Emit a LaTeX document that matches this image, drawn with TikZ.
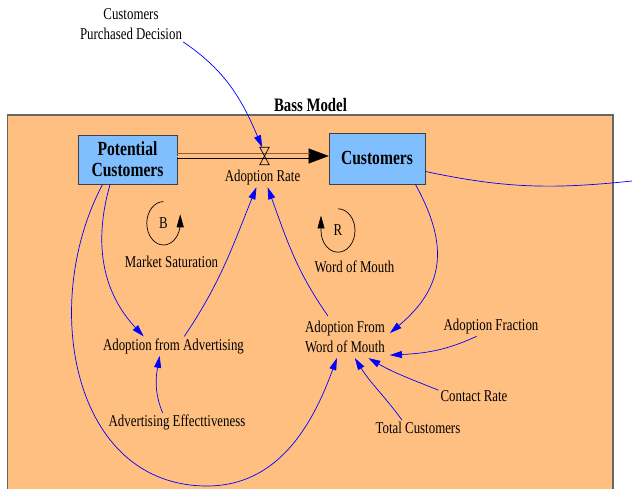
\documentclass[tikz,border=0pt]{standalone}
\usepackage{fontspec}
\setmainfont{Liberation Serif}[FakeStretch=0.78]
\usetikzlibrary{arrows.meta}
\usetikzlibrary{calc}

\definecolor{sheet}{RGB}{255,191,128}
\definecolor{stockfill}{RGB}{128,191,255}
\definecolor{pipebrown}{RGB}{128,96,64}

\begin{document}
\begin{tikzpicture}[x=1pt,y=1pt,>={Triangle[length=12pt,width=7pt]},
      var node/.style={font=\fontsize{16.5}{20.5}\selectfont,inner sep=2pt,text height=11.4pt,text depth=3.6pt},
      two line/.style={font=\fontsize{16.5}{20.5}\selectfont,inner sep=2pt,align=center},
      stock node/.style={draw=black!75,fill=stockfill,line width=0.8pt,font=\fontsize{20}{21}\selectfont\bfseries,align=center,inner sep=0pt},
      loop sign/.style={font=\fontsize{16.5}{20.5}\selectfont,inner sep=0pt},
      loop arrow/.style={black,line width=0.7pt,-{Triangle[length=13pt,width=7pt]}},
      link/.style={blue,line width=0.7pt}]
    \useasboundingbox (0,0) rectangle (632,-489);
    \clip (0,0) rectangle (632,-489);
    \draw[draw=black!60,line width=1.5pt,fill=sheet] (7.5,-115) rectangle (613,-500);
    \node[font=\fontsize{19}{21}\selectfont\bfseries] (title) at (310.5,-105) {Bass Model};

    \node[stock node,minimum width=99pt,minimum height=49pt] (PC) at (127.5,-159.5) {Potential\\Customers};
    \node[stock node,minimum width=96pt,minimum height=51pt] (C)  at (377,-158.5) {Customers};
    \node[inner sep=0pt,minimum width=9pt,minimum height=17pt] (V) at (264.5,-156) {};
    \coordinate (exit) at (632,-181);

    \node[two line] (CPD)  at (131,-24) {Customers\\Purchased Decision};
    \node[var node] (AR)   at (262.5,-177.6) {Adoption Rate};
    \node[var node] (MS)   at (171.5,-264) {Market Saturation};
    \node[var node] (WM)   at (354.5,-268.6) {Word of Mouth};
    \node[var node] (AfA)  at (173.5,-346.1) {Adoption from Advertising};
    \node[var node] (AE)   at (177,-422.6) {Advertising Effecttiveness};
    \node[two line,outer sep=3pt] (AFWM) at (345,-337) {Adoption From\\Word of Mouth};
    \node[var node] (AF)   at (491,-326.6) {Adoption Fraction};
    \node[var node] (CR)   at (474,-397.1) {Contact Rate};
    \node[var node] (TC)   at (418,-429.6) {Total Customers};
    \node[loop sign] (B) at (163.5,-223.3) {B};
    \node[loop sign] (R) at (338,-230.5) {R};

    \draw[sheet,line width=0.1pt,-{Triangle[length=20pt,width=15pt,black]}] ([yshift=3.5pt]PC.east) -- ([yshift=2.5pt]C.west);
    \draw[pipebrown,line width=1.6pt] ([yshift=6pt]PC.east) -- ([xshift=-19pt,yshift=5pt]C.west);
    \draw[line width=1pt] ([yshift=1pt]PC.east) -- ([xshift=-19pt]C.west);
    \draw[line width=0.7pt] (V.north west) -- (V.north east) -- (V.south west) -- (V.south east) -- cycle;

    \draw[loop arrow] ($(B)+(0,21.7)$) arc[start angle=90,end angle=360,x radius=16.7,y radius=21.7] -- ++(0,9);
    \draw[loop arrow] ($(R)+(0,21.7)$) arc[start angle=90,end angle=-180,x radius=17,y radius=21.7] -- ++(0,15);

    \path[link]
      (CPD.-19) edge [->,out=-34,in=113] (V.105)
      (PC.235)  edge [->,out=-106,in=133] (AfA.162)
      (AfA.42)  edge [->,out=56,in=-112] (AR.-122)
      (AFWM.129) edge [->,out=125,in=-70] (AR.-62)
      (C.-34)   edge [->,out=-61,in=40,looseness=1.2] (AFWM.5)
      (C.-15)   edge [out=-12,in=186] (exit)
      (AE.146)  edge [->,out=112,in=-100] (AfA.-145)
      (AF.-146) edge [->,out=-155,in=3] (AFWM.-22)
      (CR.169)  edge [->,out=158,in=-30] (AFWM.-42)
      (TC.149)  edge [->,out=126,in=-58] (AFWM.-65);
    \draw[link,->] (PC.225) to[out=-118,in=180,looseness=1.08] (207,-486) to[out=0,in=-110] (AFWM.-111);
\end{tikzpicture}
\end{document}
